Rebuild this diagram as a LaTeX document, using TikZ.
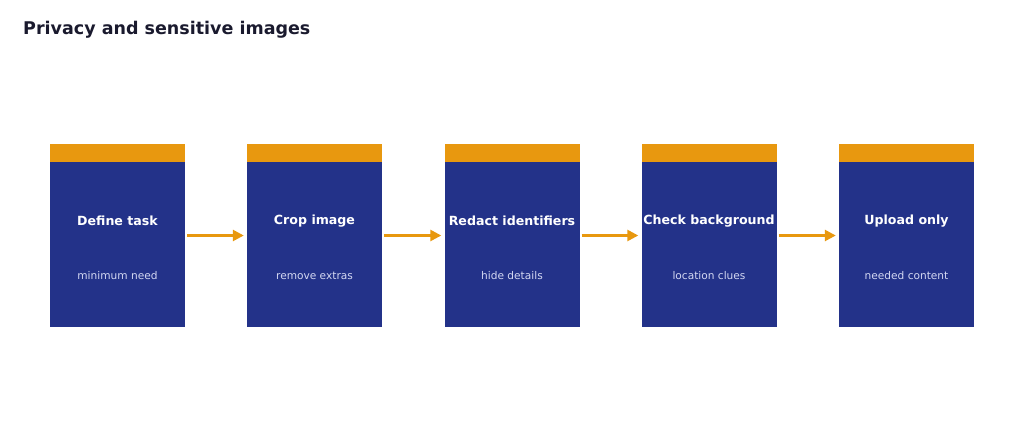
\documentclass[tikz,border=0pt]{standalone}
\usepackage{fontspec}
\setmainfont{DejaVu Sans}
\usetikzlibrary{positioning,arrows.meta}
\definecolor{stepblue}{HTML}{233289}
\definecolor{steporange}{HTML}{E8980F}
\definecolor{subtext}{HTML}{D4D8F2}
\definecolor{titleink}{HTML}{1A1A2E}
\begin{document}
\begin{tikzpicture}[x=1pt,y=1pt,
  body/.style={fill=stepblue, minimum width=135pt, minimum height=165pt, inner sep=0pt},
  topbar/.style={fill=steporange, minimum width=135pt, minimum height=18pt, inner sep=0pt},
  head/.style={text=white, font=\bfseries\fontsize{12.6}{15}\selectfont},
  sub/.style={text=subtext, font=\fontsize{10.6}{12}\selectfont},
  flow/.style={-{Triangle[length=11pt,width=11pt]}, steporange, line width=2.5pt}]

	\useasboundingbox (0,0) rectangle (1024,-441);

	% title
	\node[anchor=west, inner sep=0pt, text=titleink, font=\bfseries\fontsize{17.5}{20}\selectfont] (title) at (23,-30) {Privacy and sensitive images};

	% steps
	\foreach \i/\x/\h/\s in {1/117.5/Define task/minimum need,
	                        2/314.5/Crop image/remove extras,
	                        3/512/Redact identifiers/hide details,
	                        4/709/Check background/location clues,
	                        5/906.5/Upload only/needed content}{
		\node[body] (box\i) at (\x,-244.5) {};
		\node[topbar, above=0pt of box\i] (bar\i) {};
		\node[head] (head\i) at (\x,-221) {\h};
		\node[sub] (sub\i) at (\x,-276) {\s};
	}

	% arrows
	\foreach \i [evaluate=\i as \j using int(\i+1)] in {1,...,4}
	\draw[flow] ([xshift=2pt,yshift=9pt]box\i.east) -- ([xshift=-3pt,yshift=9pt]box\j.west);

\end{tikzpicture}
\end{document}
